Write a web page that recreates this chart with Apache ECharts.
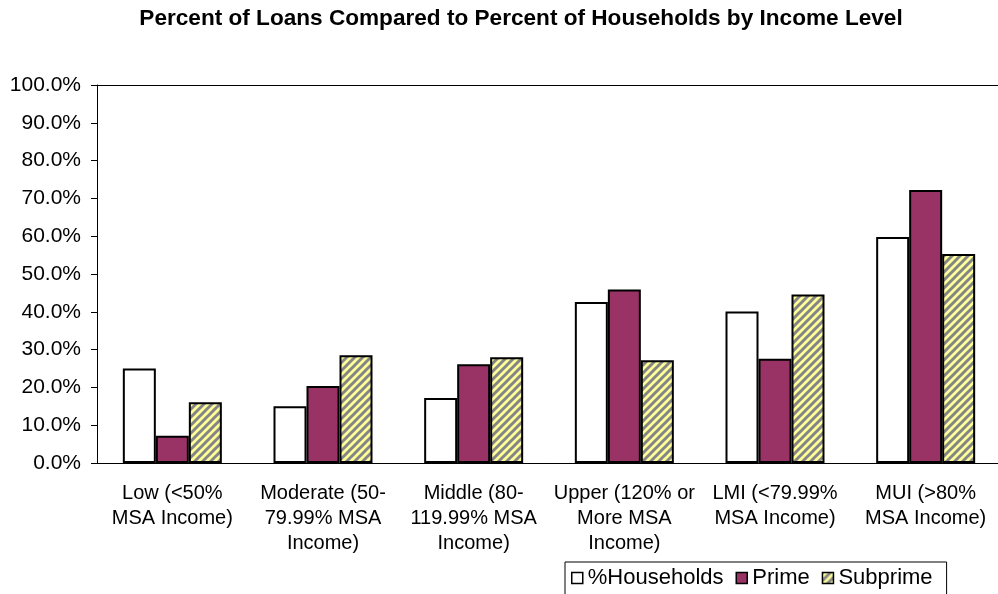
<!DOCTYPE html>
<html>
<head>
<meta charset="utf-8">
<script src="https://cdn.jsdelivr.net/npm/echarts@6/dist/echarts.min.js"></script>
<style>
html,body{margin:0;padding:0;background:#fff;overflow:hidden;width:998px;height:594px;}
#c{width:1006px;height:594px;}
</style>
</head>
<body>
<div id="c"></div>
<script>
var categories = [
  'Low (<50%\nMSA Income)',
  'Moderate (50-\n79.99% MSA\nIncome)',
  'Middle (80-\n119.99% MSA\nIncome)',
  'Upper (120% or\nMore MSA\nIncome)',
  'LMI (<79.99%\nMSA Income)',
  'MUI (>80%\nMSA Income)'
];
var households = [25.0, 15.0, 17.2, 42.6, 40.1, 59.8];
var prime = [7.2, 20.4, 26.1, 45.9, 27.6, 72.2];
var subprime = [16.1, 28.5, 28.0, 27.2, 44.6, 55.3];
var yTicks = [0, 10, 20, 30, 40, 50, 60, 70, 80, 90, 100];

var FONT = '"Liberation Sans", Arial, sans-serif';

function stripePattern() {
  var cv = document.createElement('canvas');
  cv.width = 8; cv.height = 8;
  var ctx = cv.getContext('2d');
  ctx.fillStyle = '#FFFF99';
  ctx.fillRect(0, 0, 8, 8);
  ctx.strokeStyle = '#858585';
  ctx.lineWidth = 3;
  ctx.beginPath();
  ctx.moveTo(-2, 10); ctx.lineTo(10, -2);
  ctx.moveTo(-6, 6); ctx.lineTo(6, -6);
  ctx.moveTo(2, 14); ctx.lineTo(14, 2);
  ctx.stroke();
  return {image: cv, repeat: 'repeat'};
}

var chart = echarts.init(document.getElementById('c'), null, {renderer: 'canvas'});
var border = {borderColor: '#000', borderWidth: 2};
chart.setOption({
  animation: false,
  backgroundColor: '#fff',
  textStyle: {fontFamily: FONT, color: '#000'},
  title: {
    text: 'Percent of Loans Compared to Percent of Households by Income Level',
    left: 521, top: 7, padding: 0, textAlign: 'center',
    textStyle: {fontFamily: FONT, fontWeight: 'bold', fontSize: 22.6, color: '#000'}
  },
  grid: {
    left: 97, top: 85, width: 904, height: 378,
    show: false
  },
  legend: {
    left: 565, top: 562,
    padding: [5, 14, 20, 6],
    borderColor: '#000', borderWidth: 1,
    itemWidth: 11, itemHeight: 11, itemGap: 12,
    icon: 'rect',
    textStyle: {fontFamily: FONT, fontSize: 22, color: '#000'},
    itemStyle: {borderColor: '#000', borderWidth: 1.5},
    data: ['%Households', 'Prime', 'Subprime']
  },
  xAxis: [{
    type: 'category',
    data: categories,
    axisLine: {lineStyle: {color: '#000', width: 1}},
    axisTick: {length: 6, lineStyle: {color: '#000'}},
    axisLabel: {interval: 0, fontFamily: FONT, fontSize: 20, lineHeight: 25, color: '#000', margin: 18, align: 'center'},
    splitLine: {show: false}
  }, {
    type: 'category',
    position: 'top',
    data: categories,
    axisLine: {show: true, lineStyle: {color: '#000', width: 1}},
    axisTick: {show: false},
    axisLabel: {show: false},
    splitLine: {show: false}
  }],
  yAxis: {
    type: 'value',
    min: 0, max: 100, interval: 10,
    axisLine: {show: true, lineStyle: {color: '#000', width: 1}},
    axisTick: {show: true, length: 6, lineStyle: {color: '#000'}},
    axisLabel: {
      fontFamily: FONT, fontSize: 21, color: '#000', margin: 16,
      formatter: function (v) { return yTicks.indexOf(v) >= 0 ? v.toFixed(1) + '%' : ''; }
    },
    splitLine: {show: false}
  },
  series: [
    {name: '%Households', type: 'bar', data: households, barWidth: 33, barGap: '0%',
     itemStyle: Object.assign({color: '#ffffff'}, border)},
    {name: 'Prime', type: 'bar', data: prime, barWidth: 33, barGap: '0%',
     itemStyle: Object.assign({color: '#993366'}, border)},
    {name: 'Subprime', type: 'bar', data: subprime, barWidth: 33, barGap: '0%',
     itemStyle: Object.assign({color: stripePattern()}, border)}
  ]
});
</script>
</body>
</html>
